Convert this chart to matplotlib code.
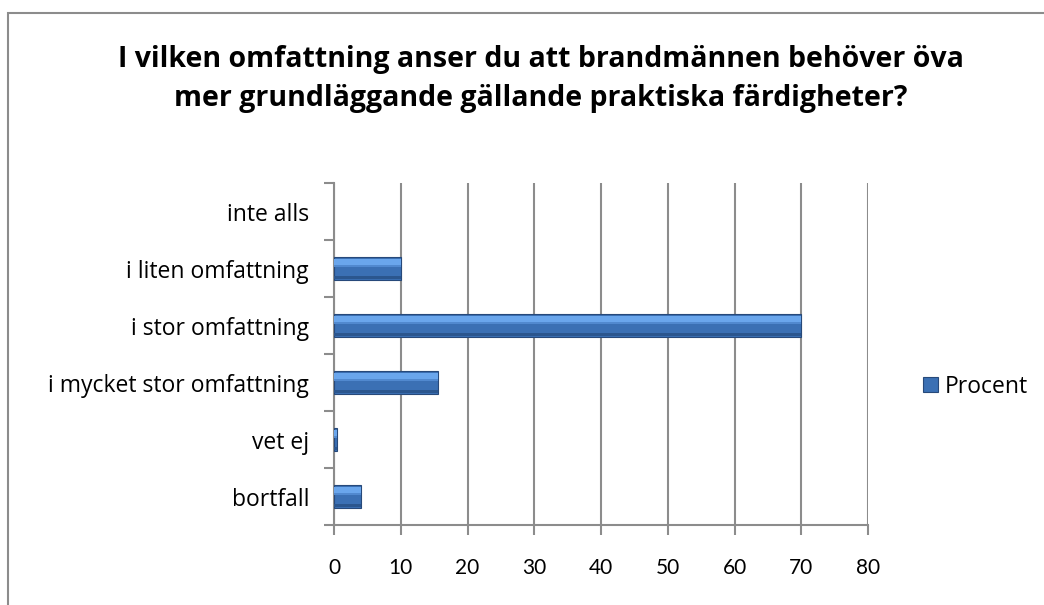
import numpy as np
import matplotlib.pyplot as plt
from matplotlib.patches import Rectangle

# data (top to bottom in the chart)
categories = ['inte alls', 'i liten omfattning', 'i stor omfattning',
              'i mycket stor omfattning', 'vet ej', 'bortfall']
procent = [0, 10, 70, 15.5, 0.4, 4]
xticks = [0, 10, 20, 30, 40, 50, 60, 70, 80]

plt.rcParams['font.family'] = ['Open Sans', 'DejaVu Sans']

fig = plt.figure(figsize=(10.44, 6.05), dpi=100)
ax = fig.add_axes([0.32, 0.1322, 0.5114, 0.5653])

# outer chart frame (clipped at right / bottom like the original)
fig.patches.append(Rectangle((8 / 1044, -0.05), 1.1, 1 - 13 / 605 + 0.05,
                             transform=fig.transFigure, fill=False,
                             edgecolor='#8c8c8c', lw=1.5))

y = np.arange(len(categories))[::-1]
lws = [0.8 if v > 0 else 0 for v in procent]
ax.barh(y, procent, height=0.4, color='#3b70b4', edgecolor='#27497a', lw=lws, zorder=3)
# bevel: light top strip, darker bottom strip
ax.barh(y + 0.11, procent, height=0.1, color='#6aa6ec', lw=0, zorder=4)
ax.barh(y + 0.05, procent, height=0.04, color='#5189cf', lw=0, zorder=4)
ax.barh(y - 0.165, procent, height=0.05, color='#2b568e', lw=0, zorder=4)

ax.set_xlim(0, 80)
ax.set_ylim(-0.5, len(categories) - 0.5)
ax.set_xticks(xticks)
ax.set_xticklabels([str(v) for v in xticks], fontsize=15, family=['Lato', 'DejaVu Sans'])
ax.set_yticks(y)
ax.set_yticklabels(categories, fontsize=16.5)
ax.set_yticks(np.arange(len(categories) + 1) - 0.5, minor=True)
ax.tick_params(axis='y', which='major', length=0, pad=18)
ax.tick_params(axis='y', which='minor', length=7, color='#8c8c8c', width=1.5)
ax.tick_params(axis='x', length=7, color='#8c8c8c', width=1.5, pad=17)

ax.grid(axis='x', color='#8c8c8c', lw=1.5, zorder=0)
for s in ['top', 'right']:
    ax.spines[s].set_visible(False)
for s in ['left', 'bottom']:
    ax.spines[s].set_color('#8c8c8c')
    ax.spines[s].set_linewidth(1.5)

fig.text(0.518, 1 - 79 / 605, 'I vilken omfattning anser du att brandmännen behöver öva\n'
         'mer grundläggande gällande praktiska färdigheter?',
         ha='center', va='center', fontsize=20.5, fontweight='bold', linespacing=1.45)

# legend
fig.patches.append(Rectangle((923 / 1044, 1 - 392 / 605), 15 / 1044, 15 / 605,
                             transform=fig.transFigure, facecolor='#3b70b4',
                             edgecolor='#27497a', lw=0.8))
fig.text(945 / 1044, 1 - 387 / 605, 'Procent', fontsize=16.5, va='center')

fig.savefig('out.png', dpi=100)
